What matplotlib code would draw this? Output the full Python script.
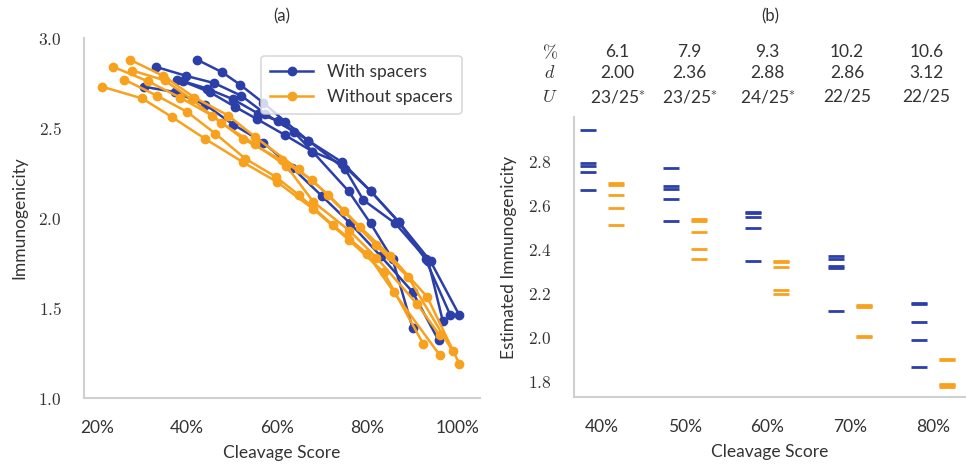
import matplotlib
matplotlib.use("Agg")
import matplotlib.pyplot as plt
from matplotlib.ticker import FuncFormatter
import numpy as np

plt.rcParams['font.family'] = ['Lato', 'DejaVu Sans']
plt.rcParams['mathtext.fontset'] = 'cm'

BLUE = '#2c3fa8'
ORANGE = '#f8a11e'
SPINE = '#d0d0d0'

# (a) cleavage score (%) vs immunogenicity, one curve per run
with_x = [
    [42.2, 47.8, 51.8, 56.9, 61.8, 66.9, 74.4, 80.7, 86.9, 94.0, 100.4],
    [33.1, 39.8, 46.0, 52.0, 57.3, 63.6, 67.8, 74.4, 80.7, 86.9, 92.9, 98.4],
    [37.8, 44.4, 50.2, 55.8, 60.2, 66.9, 75.1, 79.1, 86.2, 93.5, 96.7],
    [30.4, 37.3, 44.0, 50.2, 56.9, 63.3, 70.0, 76.2, 82.9, 90.0, 95.8],
    [39.0, 45.0, 50.5, 55.5, 61.8, 67.8, 75.8, 80.7, 85.6, 90.0],
]
with_y = [
    [2.88, 2.81, 2.74, 2.64, 2.535, 2.43, 2.31, 2.15, 1.98, 1.76, 1.46],
    [2.84, 2.79, 2.75, 2.68, 2.58, 2.48, 2.37, 2.30, 2.15, 1.98, 1.77, 1.46],
    [2.77, 2.72, 2.66, 2.58, 2.54, 2.43, 2.27, 2.10, 1.97, 1.76, 1.43],
    [2.73, 2.70, 2.63, 2.52, 2.42, 2.28, 2.12, 1.97, 1.79, 1.59, 1.32],
    [2.76, 2.70, 2.62, 2.55, 2.46, 2.37, 2.15, 1.97, 1.77, 1.39],
]
without_x = [
    [21.1, 30.0, 36.7, 44.0, 52.4, 60.0, 68.0, 75.8, 83.6, 92.4],
    [26.0, 33.3, 40.0, 46.2, 52.9, 59.6, 64.7, 72.4, 80.0, 85.8, 96.0],
    [23.6, 31.3, 38.4, 45.5, 52.4, 61.1, 67.8, 74.7, 81.8, 89.1, 98.9],
    [27.3, 34.7, 41.6, 49.1, 55.1, 64.7, 71.3, 78.4, 85.1, 93.3, 100.4],
    [27.8, 35.0, 41.0, 47.5, 55.0, 62.0, 68.0, 76.0, 82.0, 91.1, 96.0],
]
without_y = [
    [2.73, 2.665, 2.56, 2.44, 2.31, 2.20, 2.05, 1.88, 1.70, 1.30],
    [2.77, 2.68, 2.59, 2.47, 2.33, 2.23, 2.13, 1.96, 1.80, 1.59, 1.24],
    [2.84, 2.76, 2.67, 2.57, 2.44, 2.32, 2.21, 2.04, 1.85, 1.67, 1.26],
    [2.88, 2.79, 2.67, 2.57, 2.45, 2.27, 2.13, 1.95, 1.79, 1.56, 1.19],
    [2.82, 2.765, 2.66, 2.53, 2.41, 2.29, 2.09, 1.93, 1.78, 1.52, 1.35],
]

# (b) estimated immunogenicity per cleavage threshold
thresholds = ['40%', '50%', '60%', '70%', '80%']
est_with = [
    [2.94, 2.79, 2.78, 2.75, 2.67],
    [2.77, 2.685, 2.675, 2.63, 2.53],
    [2.57, 2.565, 2.545, 2.495, 2.345],
    [2.37, 2.355, 2.325, 2.315, 2.12],
    [2.155, 2.15, 2.07, 1.985, 1.865],
]
est_without = [
    [2.70, 2.69, 2.645, 2.585, 2.51],
    [2.535, 2.53, 2.48, 2.40, 2.355],
    [2.345, 2.34, 2.32, 2.215, 2.195],
    [2.145, 2.14, 2.135, 2.005, 2.0],
    [1.90, 1.895, 1.785, 1.78, 1.775],
]
row_pct = ['6.1', '7.9', '9.3', '10.2', '10.6']
row_d = ['2.00', '2.36', '2.88', '2.86', '3.12']
row_u = ['23/25$\\!^*$', '23/25$\\!^*$', '24/25$\\!^*$', '22/25', '22/25']


def style_axes(ax):
    for s in ['top', 'right']:
        ax.spines[s].set_visible(False)
    for s in ['left', 'bottom']:
        ax.spines[s].set_color(SPINE)
        ax.spines[s].set_linewidth(1.5)
    ax.tick_params(length=0, labelsize=12.5, colors='#333333')
    ax.yaxis.set_major_formatter(FuncFormatter(lambda v, p: f'${v:.1f}$'))


fig = plt.figure(figsize=(9.66, 4.65), dpi=100)

# panel (a)
ax1 = fig.add_axes([0.087, 0.144, 0.410, 0.774])
for i, (xs, ys) in enumerate(zip(with_x, with_y)):
    ax1.plot(xs, ys, '-o', color=BLUE, lw=1.8, ms=6,
             label='With spacers' if i == 0 else None)
for i, (xs, ys) in enumerate(zip(without_x, without_y)):
    ax1.plot(xs, ys, '-o', color=ORANGE, lw=1.8, ms=6,
             label='Without spacers' if i == 0 else None)
ax1.set_xlim(17.1, 105)
ax1.set_ylim(1.0, 3.0)
ax1.set_xticks([20, 40, 60, 80, 100])
ax1.set_yticks([1.0, 1.5, 2.0, 2.5, 3.0])
style_axes(ax1)
ax1.xaxis.set_major_formatter(FuncFormatter(lambda v, p: f'{v:.0f}%'))
ax1.tick_params(axis='x', pad=16)
ax1.tick_params(axis='y', pad=16)
ax1.set_xlabel('Cleavage Score', fontsize=12.5, color='#333333', labelpad=6)
ax1.set_ylabel('Immunogenicity', fontsize=12.5, color='#333333', labelpad=8)
ax1.set_title('(a)', fontsize=12, color='#333333', pad=12)
leg = ax1.legend(loc='upper right', bbox_to_anchor=(0.975, 0.975), fontsize=12.5,
                 handlelength=2.5, frameon=True, fancybox=True, borderpad=0.5)
leg.get_frame().set_edgecolor(SPINE)
leg.get_frame().set_linewidth(1.2)
for t in leg.get_texts():
    t.set_color('#333333')

# panel (b)
ax2 = fig.add_axes([0.594, 0.146, 0.406, 0.602])
pos = np.arange(len(thresholds))
for i in pos:
    ax2.plot([i - 0.17] * len(est_with[i]), est_with[i], linestyle='none',
             marker='_', ms=11, mew=2, color=BLUE)
    ax2.plot([i + 0.17] * len(est_without[i]), est_without[i], linestyle='none',
             marker='_', ms=11, mew=2, color=ORANGE)
ax2.set_xlim(-0.34, 4.4)
ax2.set_ylim(1.727, 3.0)
ax2.set_xticks(pos)
ax2.set_xticklabels(thresholds)
ax2.set_yticks([1.8, 2.0, 2.2, 2.4, 2.6, 2.8])
style_axes(ax2)
ax2.tick_params(axis='x', pad=16)
ax2.tick_params(axis='y', pad=16)
ax2.set_xlabel('Cleavage Score', fontsize=12.5, color='#333333', labelpad=6)
ax2.set_ylabel('Estimated Immunogenicity', fontsize=12.5, color='#333333', labelpad=8)

# table above panel (b)
col_x = [0.19, 1.06, 2.0, 2.96, 3.92]
row_y = [52, 73, 97]
for lbl, vals, py in zip(['$\\%$', '$d$', '$U$'], [row_pct, row_d, row_u], row_y):
    yf = 1 - py / 465
    fig.text(550 / 966, yf, lbl, fontsize=13, ha='center', va='center', color='#333333')
    for cx, v in zip(col_x, vals):
        xf = fig.transFigure.inverted().transform(ax2.transData.transform((cx, 2.0)))[0]
        fig.text(xf, yf, v, fontsize=12.5, ha='center', va='center', color='#333333')
fig.text(770 / 966, 1 - 16 / 465, '(b)', fontsize=12, ha='center', va='center', color='#333333')

fig.savefig('out.png', dpi=100)
